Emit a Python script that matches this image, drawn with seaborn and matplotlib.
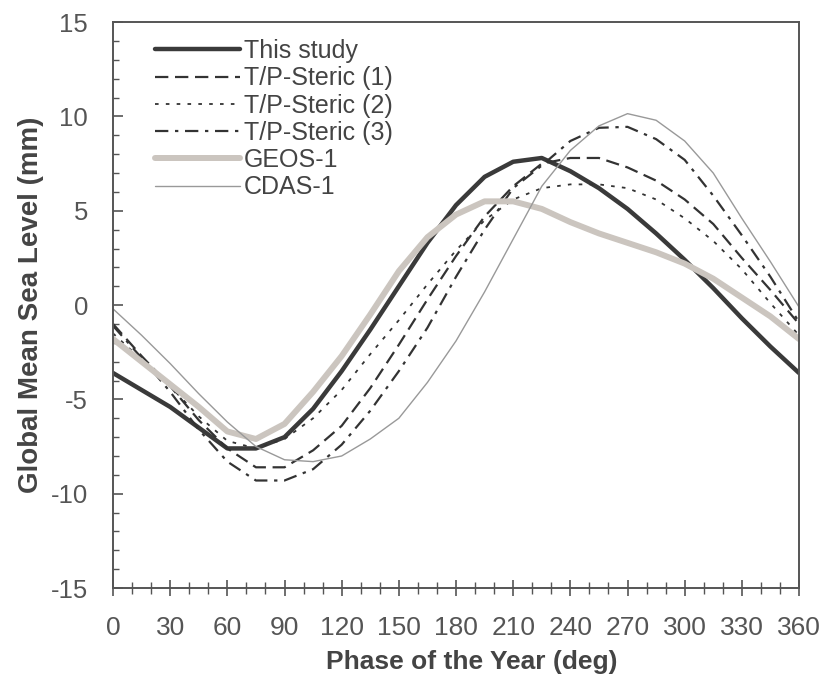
import seaborn as sns
import matplotlib.pyplot as plt
import pandas as pd

phase = [0, 15, 30, 45, 60, 75, 90, 105, 120, 135, 150, 165, 180,
         195, 210, 225, 240, 255, 270, 285, 300, 315, 330, 345, 360]

this_study = [-3.6, -4.5, -5.4, -6.5, -7.6, -7.6, -7.0, -5.5, -3.5, -1.3, 1.0, 3.3, 5.3,
              6.8, 7.6, 7.8, 7.1, 6.2, 5.1, 3.8, 2.4, 0.9, -0.7, -2.2, -3.6]
steric1 = [-1.0, -2.7, -4.3, -6.1, -7.6, -8.6, -8.6, -7.7, -6.4, -4.4, -2.1, 0.3, 2.6,
           4.7, 6.3, 7.5, 7.8, 7.8, 7.3, 6.6, 5.6, 4.3, 2.5, 0.8, -1.0]
steric2 = [-1.5, -2.9, -4.3, -5.9, -7.2, -7.6, -7.1, -6.0, -4.5, -2.6, -0.8, 1.1, 2.9,
           4.5, 5.6, 6.2, 6.4, 6.4, 6.2, 5.6, 4.6, 3.4, 1.9, 0.1, -1.6]
steric3 = [-1.1, -2.8, -4.6, -6.6, -8.3, -9.3, -9.3, -8.7, -7.4, -5.6, -3.5, -1.2, 1.5,
           4.0, 6.2, 7.4, 8.7, 9.4, 9.45, 8.8, 7.7, 5.8, 3.7, 1.5, -0.9]
geos1 = [-1.8, -3.0, -4.2, -5.4, -6.7, -7.1, -6.3, -4.6, -2.7, -0.5, 1.8, 3.6, 4.8,
         5.5, 5.5, 5.1, 4.4, 3.8, 3.3, 2.8, 2.2, 1.4, 0.4, -0.6, -1.8]
cdas1 = [-0.2, -1.6, -3.1, -4.7, -6.2, -7.5, -8.2, -8.3, -8.0, -7.1, -6.0, -4.1, -1.9,
         0.7, 3.5, 6.3, 8.2, 9.5, 10.15, 9.8, 8.7, 7.0, 4.6, 2.3, -0.1]

x_ticks = list(range(0, 361, 30))
y_ticks = [-15, -10, -5, 0, 5, 10, 15]

sns.set_style("ticks")
plt.rcParams['font.family'] = ['Liberation Sans', 'DejaVu Sans']
plt.rcParams['axes.unicode_minus'] = False

df = pd.DataFrame({'phase': phase, 'This study': this_study,
                   'T/P-Steric (1)': steric1, 'T/P-Steric (2)': steric2,
                   'T/P-Steric (3)': steric3, 'GEOS-1': geos1, 'CDAS-1': cdas1})

fig = plt.figure(figsize=(8.25, 6.93), dpi=100)
ax = fig.add_axes([0.137, 0.1515, 0.8315, 0.8165])

sns.lineplot(data=df, x='phase', y='This study', ax=ax, color='#3a3a3a', linewidth=3.2,
             label='This study')
sns.lineplot(data=df, x='phase', y='T/P-Steric (1)', ax=ax, color='#333333', linewidth=1.6,
             linestyle=(0, (6, 3)), label='T/P-Steric (1)')
sns.lineplot(data=df, x='phase', y='T/P-Steric (2)', ax=ax, color='#333333', linewidth=1.3,
             linestyle=(0, (2, 4)), label='T/P-Steric (2)')
sns.lineplot(data=df, x='phase', y='T/P-Steric (3)', ax=ax, color='#333333', linewidth=1.6,
             linestyle=(0, (6, 3, 1.5, 3)), label='T/P-Steric (3)')
sns.lineplot(data=df, x='phase', y='GEOS-1', ax=ax, color='#cbc5bf', linewidth=4.3,
             label='GEOS-1')
sns.lineplot(data=df, x='phase', y='CDAS-1', ax=ax, color='#999999', linewidth=1.0,
             label='CDAS-1')

ax.set_xlim(0, 360)
ax.set_ylim(-15, 15)
ax.set_xticks(x_ticks)
ax.set_xticks(range(0, 361, 10), minor=True)
ax.set_yticks(y_ticks)
ax.set_yticks(range(-15, 16, 1), minor=True)

ax.tick_params(axis='x', which='major', bottom=True, direction='inout', length=12, width=1.2,
               colors='#555555', labelsize=19, pad=14)
ax.tick_params(axis='x', which='minor', bottom=True, direction='inout', length=8, width=1.0,
               colors='#555555')
ax.tick_params(axis='y', which='major', left=True, direction='in', length=7, width=1.2,
               colors='#555555', labelsize=18.5, pad=18)
ax.tick_params(axis='y', which='minor', left=True, direction='in', length=4, width=1.0,
               colors='#555555')

for sp in ax.spines.values():
    sp.set_visible(True)
    sp.set_color('#555555')
    sp.set_linewidth(1.4)

ax.set_xlabel('Phase of the Year (deg)', fontsize=19, fontweight='bold', color='#444444')
ax.set_ylabel('Global Mean Sea Level (mm)', fontsize=20, fontweight='bold', color='#444444')
ax.xaxis.set_label_coords(0.523, -0.11)
ax.yaxis.set_label_coords(-0.10, 0.5)

ax.legend(loc='upper left', bbox_to_anchor=(0.029, 1.01), frameon=False, fontsize=18,
          handlelength=3.4, handletextpad=0.15, labelspacing=0.13, labelcolor='#444444')

plt.savefig('out.png', dpi=100)
plt.close()
